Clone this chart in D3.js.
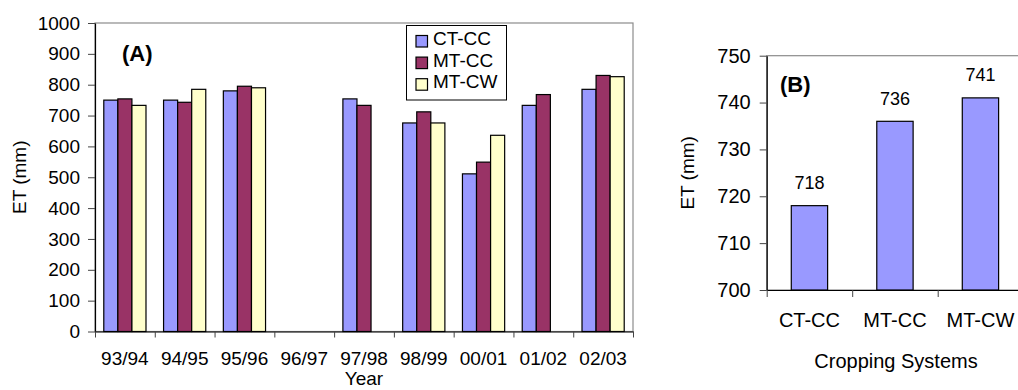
<!DOCTYPE html>
<html>
<head>
<meta charset="utf-8">
<script src="https://cdn.jsdelivr.net/npm/d3@7"></script>
<style>
  html, body { margin: 0; padding: 0; background: #fff; }
  svg { display: block; font-family: "Liberation Sans", Arial, sans-serif; }
</style>
</head>
<body>
<svg id="chart" width="1018" height="390"></svg>
<script>
// Panel A: seasonal ET by cropping system
const years = ["93/94", "94/95", "95/96", "96/97", "97/98", "98/99", "00/01", "01/02", "02/03"];
const seriesNames = ["CT-CC", "MT-CC", "MT-CW"];
const ctcc = [750, 750, 780, null, 754, 676, 511, 733, 785];
const mtcc = [754, 743, 795, null, 733, 712, 549, 768, 830];
const mtcw = [733, 785, 790, null, null, 676, 636, null, 826];
const yTicksA = [0, 100, 200, 300, 400, 500, 600, 700, 800, 900, 1000];

// Panel B: mean ET per cropping system
const systems = ["CT-CC", "MT-CC", "MT-CW"];
const meanET = [718, 736, 741];
const yTicksB = [700, 710, 720, 730, 740, 750];

const colors = { "CT-CC": "#9999ff", "MT-CC": "#993366", "MT-CW": "#ffffcc" };
const seriesValues = { "CT-CC": ctcc, "MT-CC": mtcc, "MT-CW": mtcw };

const svg = d3.select("#chart");

// ---------- Panel A ----------
const A = { left: 95, right: 633, top: 23, bottom: 331.5 };
const xA = d3.scaleBand().domain(years).range([A.left, A.right]).padding(0);
const band = xA.bandwidth();
const xSub = d3.scaleBand().domain(seriesNames)
  .range([band * 0.147, band * 0.853]).padding(0);
const yA = d3.scaleLinear().domain([0, 1000]).range([A.bottom, A.top]);

// plot area frame (top and right edges show in grey)
svg.append("rect")
  .attr("x", A.left).attr("y", A.top)
  .attr("width", A.right - A.left).attr("height", A.bottom - A.top)
  .attr("fill", "none").attr("stroke", "#8c8c8c").attr("stroke-width", 1.2);

// bars
const gA = svg.append("g");
seriesNames.forEach(name => {
  const vals = seriesValues[name];
  gA.selectAll(null)
    .data(years.map((y, i) => ({ year: y, v: vals[i] })).filter(d => d.v != null))
    .join("rect")
    .attr("x", d => xA(d.year) + xSub(name))
    .attr("y", d => yA(d.v))
    .attr("width", xSub.bandwidth())
    .attr("height", d => yA(0) - yA(d.v))
    .attr("fill", colors[name])
    .attr("stroke", "#000").attr("stroke-width", 1.2);
});

// y axis
const yAxisA = svg.append("g")
  .attr("transform", `translate(${A.left},0)`)
  .call(d3.axisLeft(yA).tickValues(yTicksA).tickFormat(d3.format("d"))
    .tickSize(7).tickPadding(8).tickSizeOuter(0));
yAxisA.selectAll("text").attr("font-size", 19).attr("fill", "#000")
  .attr("font-family", "Liberation Sans, Arial, sans-serif");
yAxisA.selectAll("line").attr("stroke", "#444");
yAxisA.select(".domain").attr("stroke", "#000").attr("stroke-width", 1.2);

// x axis: labels centred on the categories, ticks between them
const xAxisA = svg.append("g")
  .attr("transform", `translate(0,${A.bottom})`)
  .call(d3.axisBottom(xA).tickSize(0).tickPadding(20));
xAxisA.selectAll("text").attr("font-size", 19).attr("fill", "#000")
  .attr("font-family", "Liberation Sans, Arial, sans-serif");
xAxisA.select(".domain").attr("stroke", "#000").attr("stroke-width", 1.2);

const boundA = d3.scaleLinear().domain([0, years.length]).range([A.left, A.right]);
const xTickA = svg.append("g")
  .attr("transform", `translate(0,${A.bottom})`)
  .call(d3.axisBottom(boundA).tickValues(d3.range(0, years.length + 1)).tickSize(6).tickFormat(""));
xTickA.select(".domain").remove();
xTickA.selectAll("line").attr("stroke", "#444");

// titles
svg.append("text").attr("x", (A.left + A.right) / 2).attr("y", 385)
  .attr("text-anchor", "middle").attr("font-size", 19).text("Year");
svg.append("text")
  .attr("transform", `translate(26,${(A.top + A.bottom) / 2}) rotate(-90)`)
  .attr("text-anchor", "middle").attr("font-size", 19).text("ET (mm)");
svg.append("text").attr("x", 122).attr("y", 61)
  .attr("font-size", 22).attr("font-weight", "bold").text("(A)");

// legend
const leg = svg.append("g").attr("transform", "translate(406.5,25.5)");
leg.append("rect").attr("width", 100).attr("height", 74.5)
  .attr("fill", "#fff").attr("stroke", "#000").attr("stroke-width", 1);
seriesNames.forEach((name, i) => {
  const row = leg.append("g").attr("transform", `translate(0,${i * 21.6})`);
  row.append("rect").attr("x", 9.5).attr("y", 10).attr("width", 11.5).attr("height", 11.5)
    .attr("fill", colors[name]).attr("stroke", "#000").attr("stroke-width", 1.2);
  row.append("text").attr("x", 26.5).attr("y", 19.5)
    .attr("font-size", 19).text(name);
});

// ---------- Panel B ----------
const B = { left: 766.7, right: 1023.2, top: 55.7, bottom: 290 };
const xB = d3.scaleBand().domain(systems).range([B.left, B.right]).padding(0);
const yB = d3.scaleLinear().domain([700, 750]).range([B.bottom, B.top]);
const bw = xB.bandwidth() * 0.425;

svg.append("rect")
  .attr("x", B.left).attr("y", B.top)
  .attr("width", B.right - B.left).attr("height", B.bottom - B.top)
  .attr("fill", "none").attr("stroke", "#8c8c8c").attr("stroke-width", 1.2);

const dataB = systems.map((s, i) => ({ s, v: meanET[i] }));
svg.append("g").selectAll("rect").data(dataB).join("rect")
  .attr("x", d => xB(d.s) + (xB.bandwidth() - bw) / 2)
  .attr("y", d => yB(d.v))
  .attr("width", bw)
  .attr("height", d => yB(700) - yB(d.v))
  .attr("fill", colors["CT-CC"])
  .attr("stroke", "#000").attr("stroke-width", 1.2);

svg.append("g").selectAll("text").data(dataB).join("text")
  .attr("x", d => xB(d.s) + xB.bandwidth() / 2)
  .attr("y", d => yB(d.v) - 16.5)
  .attr("text-anchor", "middle").attr("font-size", 18)
  .text(d => d3.format("d")(d.v));

const yAxisB = svg.append("g")
  .attr("transform", `translate(${B.left},0)`)
  .call(d3.axisLeft(yB).tickValues(yTicksB).tickFormat(d3.format("d"))
    .tickSize(7).tickPadding(9).tickSizeOuter(0));
yAxisB.selectAll("text").attr("font-size", 20).attr("fill", "#000")
  .attr("font-family", "Liberation Sans, Arial, sans-serif");
yAxisB.selectAll("line").attr("stroke", "#444");
yAxisB.select(".domain").attr("stroke", "#000").attr("stroke-width", 1.2);

const xAxisB = svg.append("g")
  .attr("transform", `translate(0,${B.bottom})`)
  .call(d3.axisBottom(xB).tickSize(0).tickPadding(23));
xAxisB.selectAll("text").attr("font-size", 20).attr("fill", "#000")
  .attr("font-family", "Liberation Sans, Arial, sans-serif");
xAxisB.select(".domain").attr("stroke", "#000").attr("stroke-width", 1.2);

const boundB = d3.scaleLinear().domain([0, systems.length]).range([B.left, B.right]);
const xTickB = svg.append("g")
  .attr("transform", `translate(0,${B.bottom})`)
  .call(d3.axisBottom(boundB).tickValues(d3.range(0, systems.length + 1)).tickSize(7).tickFormat(""));
xTickB.select(".domain").remove();
xTickB.selectAll("line").attr("stroke", "#444");

svg.append("text").attr("x", 896).attr("y", 368)
  .attr("text-anchor", "middle").attr("font-size", 20).text("Cropping Systems");
svg.append("text")
  .attr("transform", `translate(694,${(B.top + B.bottom) / 2}) rotate(-90)`)
  .attr("text-anchor", "middle").attr("font-size", 19).text("ET (mm)");
svg.append("text").attr("x", 780).attr("y", 92)
  .attr("font-size", 22).attr("font-weight", "bold").text("(B)");
</script>
</body>
</html>
